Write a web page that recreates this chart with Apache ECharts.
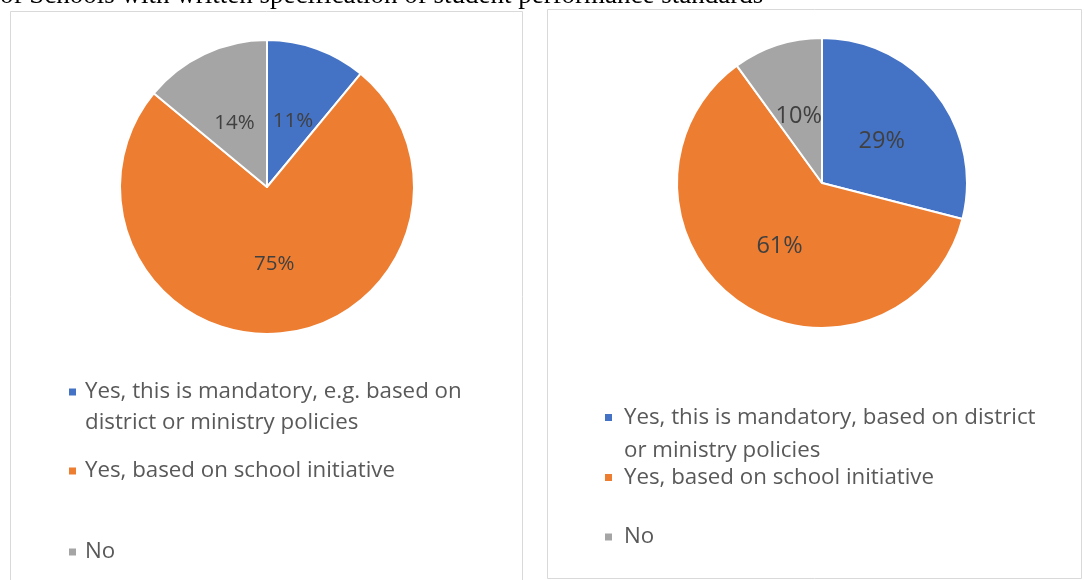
<!DOCTYPE html>
<html>
<head>
<meta charset="utf-8">
<script src="https://cdn.jsdelivr.net/npm/echarts@6/dist/echarts.min.js"></script>
<style>
  html, body { margin: 0; padding: 0; background: #fff; }
  #chart { width: 1084px; height: 580px; }
</style>
</head>
<body>
<div id="chart"></div>
<script>
// Categories for each survey panel
const leftCategories = [
  'Yes, this is mandatory, e.g. based on district or ministry policies',
  'Yes, based on school initiative',
  'No'
];
const rightCategories = [
  'Yes, this is mandatory, based on district or ministry policies',
  'Yes, based on school initiative',
  'No'
];
// Shares of schools (%)
const leftValues = [11, 75, 14];
const rightValues = [29, 61, 10];
const sliceColors = ['#4472C4', '#ED7D31', '#A5A5A5'];
const headline = 'of Schools with written specification of student performance standards';

// Wrapped legend text; the leading blank line keeps the marker level with the first line
const wrapped = {};
wrapped[leftCategories[0]] = '\nYes, this is mandatory, e.g. based on\ndistrict or ministry policies';
wrapped[rightCategories[0]] = '\nYes, this is mandatory, based on district\nor ministry policies';

const FONT = '"Open Sans", "Noto Sans", sans-serif';

function makeLegend(name, left, top, lh, gap) {
  return {
    data: [name],
    left: left,
    top: top,
    padding: 0,
    orient: 'vertical',
    icon: 'rect',
    itemWidth: 9,
    itemHeight: 9,
    selectedMode: false,
    formatter: n => wrapped[n] || n,
    textStyle: {
      fontFamily: FONT,
      fontSize: 22.3,
      color: '#595959',
      lineHeight: lh,
      padding: [0, 0, 0, gap]
    }
  };
}

// labelShift nudges each slice label vertically (px)
function makePie(cats, vals, center, radius, labelSize, labelShift) {
  return {
    type: 'pie',
    center: center,
    radius: radius,
    startAngle: 90,
    clockwise: true,
    animation: false,
    silent: true,
    itemStyle: { borderColor: '#ffffff', borderWidth: 2 },
    label: {
      position: 'inside',
      formatter: p => p.value + '%',
      fontFamily: FONT,
      fontSize: labelSize,
      color: '#404040'
    },
    labelLine: { show: false },
    data: cats.map((c, i) => ({
      name: c,
      value: vals[i],
      itemStyle: { color: sliceColors[i] },
      label: { offset: [0, labelShift[i]] }
    }))
  };
}

const chart = echarts.init(document.getElementById('chart'));
chart.setOption({
  backgroundColor: '#ffffff',
  animation: false,
  graphic: [
    { type: 'rect', shape: { x: 10.5, y: 11.5, width: 512, height: 600 },
      style: { fill: 'none', stroke: '#D9D9D9', lineWidth: 1 } },
    { type: 'rect', shape: { x: 547.5, y: 9.5, width: 534, height: 569 },
      style: { fill: 'none', stroke: '#D9D9D9', lineWidth: 1 } },
    { type: 'text', left: 0, top: -17.5,
      style: { text: headline, font: '27px "Liberation Serif", "Times New Roman", serif', fill: '#000000' } }
  ],
  legend: [
    makeLegend(leftCategories[0], 67, 345.5, 31, 3),
    makeLegend(leftCategories[1], 67, 455.5, 31, 3),
    makeLegend(leftCategories[2], 67, 536.5, 31, 3),
    makeLegend(rightCategories[0], 603, 368, 33, 6),
    makeLegend(rightCategories[1], 603, 461, 33, 6),
    makeLegend(rightCategories[2], 603, 520.5, 33, 6)
  ],
  series: [
    makePie(leftCategories, leftValues, [267, 187], 147, 20.5, [6, 1, 5]),
    makePie(rightCategories, rightValues, [822, 183], 145, 23.5, [5, 1, 5])
  ]
});
</script>
</body>
</html>
